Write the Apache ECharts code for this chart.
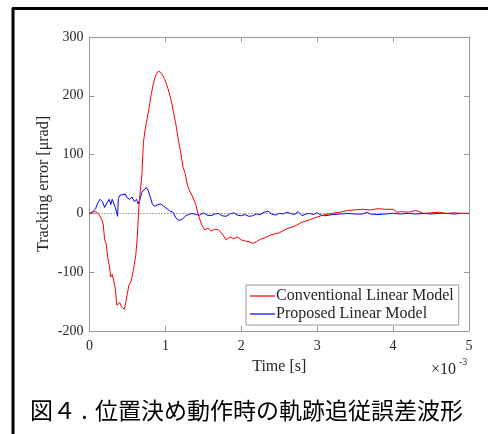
<!DOCTYPE html>
<html><head><meta charset="utf-8">
<script src="https://cdn.jsdelivr.net/npm/echarts@6/dist/echarts.min.js"></script>
<style>html,body{margin:0;padding:0;background:#fff}#c{width:488px;height:434px}</style>
</head><body><div id="c"></div>
<script>
const redT = [0,0.05,0.1,0.13,0.16,0.18,0.2,0.22,0.24,0.26,0.28,0.3,0.32,0.34,0.36,0.38,0.4,0.42,0.44,0.46,0.48,0.5,0.52,0.55,0.58,0.61,0.63,0.65,0.67,0.69,0.71,0.73,0.75,0.78,0.81,0.84,0.87,0.9,0.93,0.96,0.99,1.02,1.05,1.08,1.11,1.14,1.17,1.2,1.23,1.26,1.29,1.32,1.36,1.4,1.44,1.48,1.52,1.56,1.6,1.65,1.7,1.75,1.8,1.85,1.9,1.95,2.0,2.05,2.1,2.15,2.2,2.25,2.3,2.4,2.5,2.6,2.7,2.8,2.9,3.0,3.1,3.2,3.3,3.4,3.5,3.6,3.7,3.8,3.9,4.0,4.05,4.1,4.2,4.3,4.4,4.5,4.6,4.7,4.8,4.9,5.0];
const redV = [0,3,2,-3,-10,-18,-45,-52,-75,-88,-108,-104,-115,-128,-156,-158,-152,-158,-160,-163,-150,-135,-122,-115,-95,-70,-40,10,40,65,120,140,155,175,200,220,234,241,241,236,228,218,205,190,170,150,125,105,80,68,48,38,28,15,-5,-20,-28,-25,-30,-27,-28,-35,-45,-40,-43,-40,-45,-47,-48,-51,-48,-44,-42,-36,-33,-26,-22,-15,-11,-6,-2,0,2,5,6,7,6,8,7,7,2,3,2,5,0,1,2,0,1,0,0];
const blueT = [0,0.04,0.08,0.11,0.14,0.17,0.2,0.23,0.26,0.28,0.3,0.32,0.34,0.36,0.37,0.38,0.4,0.42,0.44,0.47,0.5,0.53,0.56,0.59,0.62,0.64,0.66,0.69,0.72,0.75,0.77,0.8,0.83,0.86,0.9,0.94,0.98,1.02,1.06,1.1,1.14,1.18,1.22,1.26,1.3,1.35,1.4,1.45,1.5,1.55,1.6,1.65,1.7,1.75,1.8,1.85,1.9,1.95,2.0,2.05,2.1,2.15,2.2,2.25,2.3,2.35,2.4,2.45,2.5,2.55,2.6,2.65,2.7,2.75,2.8,2.85,2.9,2.95,3.0,3.05,3.1,3.2,3.3,3.4,3.5,3.6,3.65,3.7,3.8,3.9,4.0,4.1,4.2,4.3,4.4,4.5,4.6,4.7,4.8,4.9,5.0];
const blueV = [0,2,8,18,24,20,10,18,24,15,24,25,10,0,-5,25,31,28,32,33,26,24,28,20,24,16,22,36,40,44,40,28,15,12,15,16,12,8,4,2,-8,-12,-10,-5,-2,0,-2,-3,1,-3,-4,-1,0,-4,-5,-1,1,-3,-4,-2,-5,-4,-1,-2,2,4,-1,-3,0,-1,2,0,-2,3,-4,-1,0,-2,1,-3,-4,-2,-1,0,-1,-1,2,-1,-2,-1,0,-1,0,-1,0,-1,0,0,-1,0,0];
const xTicks = [0,1,2,3,4,5];
const yTicks = [-200,-100,0,100,200,300];
const seriesNames = ['Conventional Linear Model','Proposed Linear Model'];

const pair = (t,v)=>t.map((x,i)=>[x,v[i]]);
const serif = 'Liberation Serif';
const axCol = '#262626';
const boxCol = '#9a9a9a';
const chart = echarts.init(document.getElementById('c'), null, {renderer:'canvas'});
const boxAxis = {
  axisLine:{show:true,onZero:false,lineStyle:{color:boxCol}},
  axisTick:{inside:true,length:5,lineStyle:{color:boxCol}},
  splitLine:{show:false}
};
chart.setOption({
  animation:false,
  backgroundColor:'#fff',
  grid:{left:89.5,right:19,top:37,bottom:103,containLabel:false},
  legend:{
    data:seriesNames, orient:'vertical', left:246, top:285,
    itemWidth:25, itemHeight:1.2, itemGap:2, padding:[3,5,3,4],
    backgroundColor:'#fff', borderColor:boxCol, borderWidth:1, borderRadius:0,
    textStyle:{fontFamily:serif,fontSize:16,color:axCol,padding:[0,0,0,-4]},
    icon:'rect'
  },
  xAxis:[Object.assign({
    type:'value',min:0,max:5,interval:1,
    axisLabel:{color:axCol,fontFamily:serif,fontSize:14,margin:8,formatter:v=>xTicks.includes(v)?String(v):''},
    name:'Time [s]',nameLocation:'middle',nameGap:28,nameMoveOverlap:false,
    nameTextStyle:{color:axCol,fontFamily:serif,fontSize:16}
  },boxAxis),Object.assign({
    type:'value',position:'top',min:0,max:5,interval:1,
    axisLabel:{show:false}
  },boxAxis)],
  yAxis:[Object.assign({
    type:'value',min:-200,max:300,interval:100,
    axisLabel:{color:axCol,fontFamily:serif,fontSize:14,margin:6,formatter:v=>yTicks.includes(v)?String(v):''},
    name:'Tracking error [\u03bcrad]',nameLocation:'middle',nameGap:38,nameRotate:90,nameMoveOverlap:false,
    nameTextStyle:{color:axCol,fontFamily:serif,fontSize:16}
  },boxAxis),Object.assign({
    type:'value',position:'right',min:-200,max:300,interval:100,
    axisLabel:{show:false}
  },boxAxis)],
  series:[{
    name:seriesNames[0],type:'line',data:pair(redT,redV),
    symbol:'none',lineStyle:{color:'#ff0000',width:1},itemStyle:{color:'#ff0000'},
    markLine:{silent:true,symbol:'none',label:{show:false},
      lineStyle:{color:'#555',type:[1,2],width:1},data:[{yAxis:0}]},
    z:3
  },{
    name:seriesNames[1],type:'line',data:pair(blueT,blueV),
    symbol:'none',lineStyle:{color:'#0000ff',width:1},itemStyle:{color:'#0000ff'},
    z:2
  }],
  graphic:[
    {type:'line',shape:{x1:13,y1:8,x2:13,y2:434},style:{stroke:'#000',lineWidth:3}},
    {type:'line',shape:{x1:12,y1:8.5,x2:488,y2:8.5},style:{stroke:'#000',lineWidth:3}},
    {type:'text',left:431,top:362,style:{text:'\u00d710',fontFamily:serif,fontSize:16,fill:axCol}},
    {type:'text',left:459,top:357,style:{text:'-3',fontFamily:serif,fontSize:10,fill:axCol}},
    {type:'text',left:30,top:399,style:{text:'図４ .',fontFamily:'Noto Sans CJK JP',fontSize:23,fill:'#000'}},
    {type:'text',left:95,top:399,style:{text:'位置決め動作時の軌跡追従誤差波形',fontFamily:'Noto Sans CJK JP',fontSize:23,fill:'#000'}}
  ]
});
</script></body></html>
